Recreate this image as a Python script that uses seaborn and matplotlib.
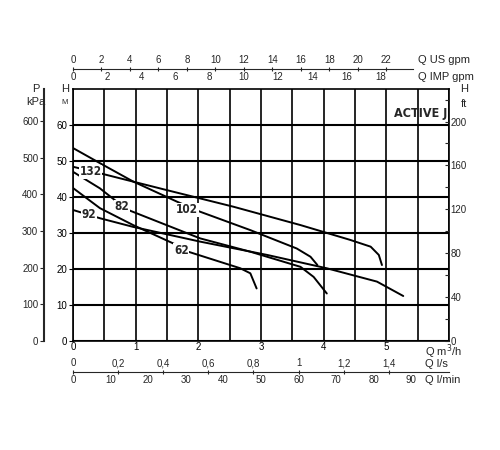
"""Pump performance curves, ACTIVE J series."""

import matplotlib.pyplot as plt
import seaborn as sns
import pandas as pd

# curves: flow (m3/h) vs head (m)
q_102 = [0, 0.43, 0.96, 1.66, 2.03, 2.83, 3.57, 3.79, 3.90]
h_102 = [53.6, 49.4, 44.3, 38.7, 35.9, 30.8, 25.7, 23.4, 21.1]
q_132 = [0, 0.43, 1.5, 2.56, 3.63, 4.42, 4.75, 4.88, 4.93]
h_132 = [48.4, 46.6, 41.9, 37.3, 32.2, 28.1, 26.2, 23.9, 21.1]
q_82 = [0, 0.43, 0.67, 0.91, 2.03, 2.83, 3.63, 3.84, 4.05]
h_82 = [47.0, 42.4, 39.1, 36.2, 28.5, 24.8, 20.6, 17.8, 13.2]
q_62 = [0, 0.43, 0.96, 1.6, 1.84, 2.67, 2.83, 2.93]
h_62 = [42.5, 36.9, 32.2, 27.1, 24.8, 20.2, 18.8, 14.6]
q_92 = [0, 0.43, 0.96, 2.03, 3.1, 4.05, 4.85, 5.27]
h_92 = [36.4, 34.1, 31.7, 27.6, 23.9, 20.2, 16.5, 12.5]

models = ["102", "132", "82", "62", "92"]
label_q = [1.82, 0.28, 0.78, 1.73, 0.25]
label_h = [36.4, 47.0, 37.3, 25.1, 35.0]

head_ticks = [0, 10, 20, 30, 40, 50, 60]
kpa_ticks = [0, 100, 200, 300, 400, 500, 600]
ft_labels = [0, 40, 80, 120, 160, 200]
us_ticks = [0, 2, 4, 6, 8, 10, 12, 14, 16, 18, 20, 22]
imp_ticks = [0, 2, 4, 6, 8, 10, 12, 14, 16, 18]
ls_ticks = [0, 0.2, 0.4, 0.6, 0.8, 1, 1.2, 1.4]
lmin_ticks = [0, 10, 20, 30, 40, 50, 60, 70, 80, 90]

frames = []
for name, q, h in zip(models, [q_102, q_132, q_82, q_62, q_92],
                      [h_102, h_132, h_82, h_62, h_92]):
    frames.append(pd.DataFrame({"Q": q, "H": h, "model": name}))
df = pd.concat(frames)

sns.set_style("white")
plt.rcParams["font.family"] = ["Liberation Sans", "DejaVu Sans"]
plt.rcParams["font.size"] = 7

fig = plt.figure(figsize=(5, 4.5), dpi=100)
L, R, B, T = 73 / 500, 449 / 500, 1 - 341 / 450, 1 - 89 / 450
ax = fig.add_axes([L, B, R - L, T - B])
QMAX, HMAX = 6.0, 70.0

sns.lineplot(data=df, x="Q", y="H", units="model", estimator=None, sort=False,
             color="black", lw=1.4, ax=ax, legend=False)
for name, lq, lh in zip(models, label_q, label_h):
    ax.text(lq, lh, name, ha="center", va="center", fontsize=8.5,
            fontweight="bold", family="DejaVu Sans", fontstretch="condensed",
            bbox=dict(facecolor="white", edgecolor="none", pad=0.5))
ax.text(5.55, 63.3, "ACTIVE J", ha="center", va="center", fontsize=9,
        fontweight="bold", family="DejaVu Sans", fontstretch="condensed")

ax.set_xlim(0, QMAX)
ax.set_ylim(0, HMAX)
half_steps = [x * 0.5 for x in range(13)]
ax.set_xticks(half_steps)
ax.set_xticklabels([str(int(v)) if v == int(v) and v <= 5 else "" for v in half_steps])
ax.set_yticks(head_ticks)
ax.grid(True, axis="x", color="black", lw=1.2)
ax.grid(True, axis="y", color="black", lw=1.5)
ax.tick_params(axis="both", length=3, width=0.8, pad=1, colors="black", labelsize=7)
ax.tick_params(axis="x", length=0)
for s in ax.spines.values():
    s.set_color("black")
    s.set_linewidth(1.2)
ax.set_xlabel("")
ax.set_ylabel("")

# kPa axis on left
axp = ax.twinx()
axp.set_ylim(0, HMAX * 9.81)
axp.yaxis.set_ticks_position("left")
axp.spines["left"].set_position(("outward", 21))
axp.spines["left"].set_linewidth(1.5)
for s in ["right", "top", "bottom"]:
    axp.spines[s].set_visible(False)
axp.set_yticks(kpa_ticks)
axp.tick_params(axis="y", length=3, pad=1, labelsize=7)
axp.grid(False)

# ft axis on right
axf = ax.twinx()
axf.set_ylim(0, HMAX * 3.281)
axf.set_yticks(range(0, 221, 20))
axf.set_yticklabels([str(v) if v in ft_labels else "" for v in range(0, 221, 20)])
for s in ["left", "top", "bottom", "right"]:
    axf.spines[s].set_visible(False)
axf.tick_params(axis="y", direction="in", length=3, pad=1, labelsize=7)
axf.grid(False)

fig.text(36 / 500, 1 - 89 / 450, "P", ha="center", va="center", fontsize=8)
fig.text(36 / 500, 1 - 102 / 450, "kPa", ha="center", va="center", fontsize=8)
fig.text(65 / 500, 1 - 89 / 450, "H", ha="center", va="center", fontsize=8)
fig.text(65 / 500, 1 - 102 / 450, "M", ha="center", va="center", fontsize=5.5)
fig.text(464 / 500, 1 - 89 / 450, "H", ha="center", va="center", fontsize=8)
fig.text(464 / 500, 1 - 104 / 450, "ft", ha="center", va="center", fontsize=8)
fig.text(425 / 500, 1 - 352 / 450, "Q m$^3$/h", ha="left", va="center", fontsize=8)

# top flow axes
top_y = 1 - 69 / 450
axt = fig.add_axes([L, top_y, R - L, 0.0001])
axt.set_xlim(0, QMAX)
axt.set_yticks([])
for s in ["left", "right", "top"]:
    axt.spines[s].set_visible(False)
axt.spines["bottom"].set_bounds(0, 5.42)
axt.set_xticks([v / 3.666 for v in imp_ticks])
axt.set_xticklabels([str(v) for v in imp_ticks])
axt.tick_params(axis="x", length=3, pad=1, labelsize=7, direction="inout")
axt.set_facecolor("none")
sec = axt.secondary_xaxis("top")
sec.set_xticks([v / 4.403 for v in us_ticks])
sec.set_xticklabels([str(v) for v in us_ticks])
sec.tick_params(axis="x", length=3, pad=1, labelsize=7, direction="inout")
sec.spines["top"].set_visible(False)
fig.text(418 / 500, 1 - 60 / 450, "Q US gpm", ha="left", va="center", fontsize=8)
fig.text(418 / 500, 1 - 77 / 450, "Q IMP gpm", ha="left", va="center", fontsize=8)

# bottom flow axes
bot_y = 1 - 372 / 450
axb = fig.add_axes([L, bot_y, R - L, 0.0001])
axb.set_xlim(0, QMAX)
axb.set_yticks([])
for s in ["left", "right", "top"]:
    axb.spines[s].set_visible(False)
axb.set_xticks([v / 16.667 for v in lmin_ticks])
axb.set_xticklabels([str(v) for v in lmin_ticks])
axb.tick_params(axis="x", length=3, pad=1, labelsize=7, direction="inout")
axb.set_facecolor("none")
secb = axb.secondary_xaxis("top")
secb.set_xticks([v * 3.6 for v in ls_ticks])
secb.set_xticklabels([f"{v:g}".replace(".", ",") for v in ls_ticks])
secb.tick_params(axis="x", length=3, pad=1, labelsize=7, direction="inout")
secb.spines["top"].set_visible(False)
fig.text(425 / 500, 1 - 364 / 450, "Q l/s", ha="left", va="center", fontsize=8)
fig.text(425 / 500, 1 - 380 / 450, "Q l/min", ha="left", va="center", fontsize=8)

fig.savefig("out.png", dpi=100)
plt.close(fig)
